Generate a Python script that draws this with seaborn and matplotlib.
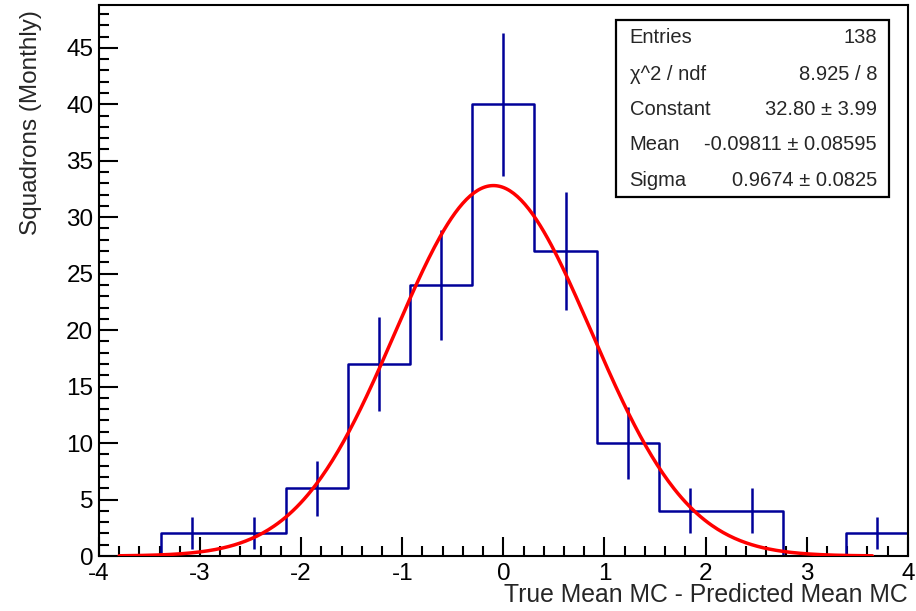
import numpy as np
import pandas as pd
import matplotlib
matplotlib.use("Agg")
import matplotlib.pyplot as plt
from matplotlib.patches import Rectangle
import seaborn as sns

# Histogram data (13 bins from -4 to 4)
bin_edges = list(np.linspace(-4, 4, 14))
counts = [0, 2, 2, 6, 17, 24, 40, 27, 10, 4, 4, 0, 2]

# Gaussian fit results (from the stats box)
fit_const = 32.80
fit_mean = -0.09811
fit_sigma = 0.9674
fit_range = [-3.8, 3.65]

stats_labels = ["Entries", "\u03c7^2 / ndf", "Constant", "Mean", "Sigma"]
stats_values = ["138", "8.925 / 8", "32.80 \u00b1 3.99",
                "-0.09811 \u00b1 0.08595", "0.9674 \u00b1 0.0825"]

sns.set_style("ticks")
plt.rcParams["font.family"] = ["Liberation Sans", "DejaVu Sans"]
plt.rcParams["axes.unicode_minus"] = False

edges = np.array(bin_edges)
centers = (edges[:-1] + edges[1:]) / 2
df = pd.DataFrame({"x": centers, "n": counts})

fig = plt.figure(figsize=(9.16, 6.11), dpi=100)
ax = fig.add_axes([0.108, 0.090, 0.883, 0.902])

blue = "#000099"
sns.histplot(data=df, x="x", weights="n", bins=bin_edges, element="step",
             fill=False, color=blue, linewidth=1.8, ax=ax)

# error bars sqrt(N) on non-empty bins
nz = df[df["n"] > 0]
ax.errorbar(nz["x"], nz["n"], yerr=np.sqrt(nz["n"]), fmt="none",
            ecolor=blue, elinewidth=1.8, capsize=0)

# fitted gaussian
xf = np.linspace(fit_range[0], fit_range[1], 400)
yf = fit_const * np.exp(-0.5 * ((xf - fit_mean) / fit_sigma) ** 2)
sns.lineplot(x=xf, y=yf, color="#ff0000", linewidth=2.5, ax=ax, zorder=5)

ax.set_xlim(-4, 4)
ax.set_ylim(0, 48.8)
ax.set_xticks(np.arange(-4, 5, 1))
ax.set_xticks(np.arange(-4, 4.01, 0.2), minor=True)
ax.set_yticks(np.arange(0, 46, 5))
ax.set_yticks(np.arange(0, 49, 1), minor=True)
ax.tick_params(which="both", direction="in", top=False, right=False,
               labelsize=17.5, width=1.5, colors="black")
ax.tick_params(which="major", length=14, pad=4)
ax.tick_params(axis="x", which="major", pad=5)
ax.tick_params(which="minor", length=7)
for s in ax.spines.values():
    s.set_visible(True)
    s.set_color("black")
    s.set_linewidth(1.5)

ax.set_xlabel("True Mean MC - Predicted Mean MC", fontsize=17.8,
              ha="right", va="center")
ax.xaxis.set_label_coords(1.0, -0.071)
ax.set_ylabel("Squadrons (Monthly)", fontsize=17.5, ha="right", va="center")
ax.yaxis.set_label_coords(-0.084, 0.99)

# stats box
ax.add_patch(Rectangle((0.639, 0.6515), 0.3375, 0.3215, transform=ax.transAxes,
                       facecolor="white", edgecolor="black", linewidth=1.6,
                       zorder=10))
row_y = [0.940, 0.873, 0.811, 0.746, 0.681]
for lab, val, y in zip(stats_labels, stats_values, row_y):
    ax.text(0.656, y, lab, transform=ax.transAxes, fontsize=14.5,
            ha="left", va="center", zorder=11)
    ax.text(0.962, y, val, transform=ax.transAxes, fontsize=14.5,
            ha="right", va="center", zorder=11)

fig.savefig("out.png", dpi=100, facecolor="white")
